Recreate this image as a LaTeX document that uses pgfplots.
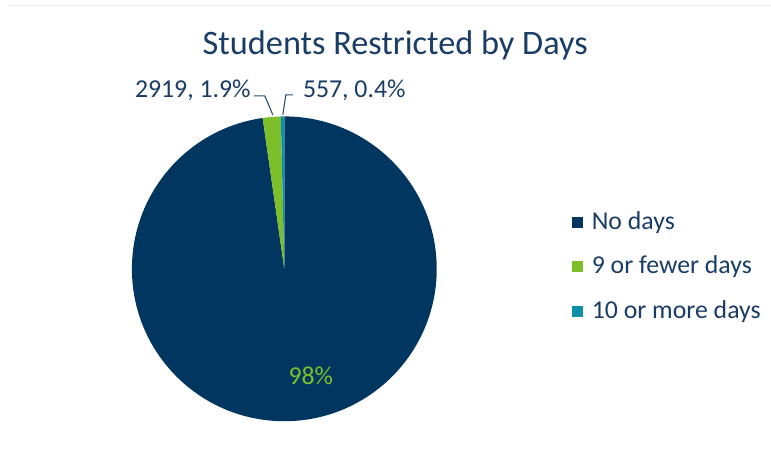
\documentclass[border=0pt]{standalone}
\usepackage{pgfplots}
\pgfplotsset{compat=1.18}
\usepackage{pgfplotstable}
\usepackage{fontspec}
\setmainfont{Carlito}
\definecolor{navy}{HTML}{003660}
\definecolor{lgreen}{HTML}{7CBF2A}
\definecolor{tealc}{HTML}{0E90AA}
\definecolor{txt}{HTML}{1A3D66}
\definecolor{lead}{HTML}{2F4F72}

\pgfplotstableread{
value
149524
2919
557
}\piedata

\begin{document}
\begin{tikzpicture}
\pgfplotstablegetelem{0}{value}\of\piedata \let\va\pgfplotsretval
\pgfplotstablegetelem{1}{value}\of\piedata \let\vb\pgfplotsretval
\pgfplotstablegetelem{2}{value}\of\piedata \let\vc\pgfplotsretval
\edef\tot{\fpeval{\va+\vb+\vc}}
\edef\aA{90}
\edef\aB{\fpeval{90-360*\va/\tot}}
\edef\aC{\fpeval{\aB-360*\vb/\tot}}
\edef\aD{\fpeval{\aC-360*\vc/\tot}}
\begin{axis}[at={(0,0)}, anchor=south west, width=771pt, height=462pt,
  scale only axis, xmin=0, xmax=771, ymin=0, ymax=462, hide axis, clip=false]
\fill[white] (axis cs:0,0) rectangle (axis cs:771,462);
\draw[black!7, line width=1pt] (axis cs:9,456) -- (axis cs:771,456);
% slices
\fill[navy] (axis cs:284.5,193) -- ([shift={(\aA:152.5pt)}]axis cs:284.5,193)
  arc[start angle=\aA, end angle=\aB, radius=152.5pt] -- cycle;
\fill[lgreen] (axis cs:284.5,193) -- ([shift={(\aB:152.5pt)}]axis cs:284.5,193)
  arc[start angle=\aB, end angle=\aC, radius=152.5pt] -- cycle;
\fill[tealc] (axis cs:284.5,193) -- ([shift={(\aC:152.5pt)}]axis cs:284.5,193)
  arc[start angle=\aC, end angle=\aD, radius=152.5pt] -- cycle;
% title
\node[text=txt, font=\fontsize{34.3}{40}\selectfont] at (axis cs:395.5,417) {Students Restricted by Days};
% labels
\node[text=txt, font=\fontsize{25.8}{30}\selectfont, anchor=east, inner sep=0pt] at (axis cs:251,372) {2919, 1.9\%};
\node[text=txt, font=\fontsize{25.8}{30}\selectfont, anchor=west, inner sep=0pt] at (axis cs:303,372) {557, 0.4\%};
\draw[lead, line width=1.1pt] (axis cs:254,366) -- (axis cs:265,366) -- (axis cs:273,347);
\draw[lead, line width=1.1pt] (axis cs:293,367) -- (axis cs:286,367) -- (axis cs:283,347);
\node[text=lgreen, font=\fontsize{25.8}{30}\selectfont] at (axis cs:311,86) {98\%};
% legend
\fill[navy] (axis cs:572,234) rectangle (axis cs:583,245);
\fill[lgreen] (axis cs:572,190) rectangle (axis cs:583,201);
\fill[tealc] (axis cs:572,145) rectangle (axis cs:583,156);
\node[text=txt, font=\fontsize{25.8}{30}\selectfont, anchor=west, inner sep=0pt] at (axis cs:592,239.5) {No days};
\node[text=txt, font=\fontsize{25.8}{30}\selectfont, anchor=west, inner sep=0pt] at (axis cs:592,195.5) {9 or fewer days};
\node[text=txt, font=\fontsize{25.8}{30}\selectfont, anchor=west, inner sep=0pt] at (axis cs:592,150.5) {10 or more days};
\end{axis}
\end{tikzpicture}
\end{document}
